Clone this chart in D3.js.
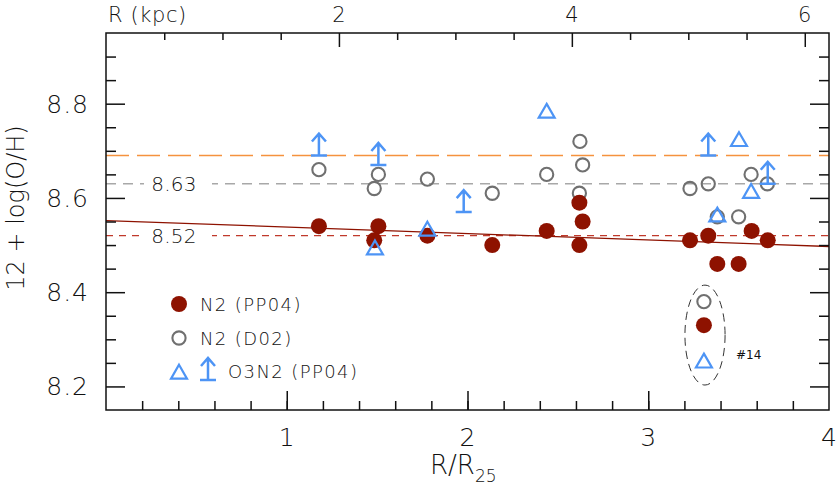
<!DOCTYPE html>
<html>
<head>
<meta charset="utf-8">
<script src="https://cdn.jsdelivr.net/npm/d3@7"></script>
<style>
  html, body { margin: 0; padding: 0; background: #fff; }
  svg { display: block; }
  svg text { font-family: "DejaVu Sans", sans-serif; font-weight: 200; }
</style>
</head>
<body>
<svg id="chart" width="839" height="494"></svg>
<script>
// ---------- data ----------
// N2 (PP04): filled dark-red circles
const n2ppX = [1.178, 1.507, 1.484, 1.778, 2.137, 2.438, 2.619, 2.637, 2.619, 3.231, 3.332, 3.382, 3.500, 3.572, 3.661, 3.308];
const n2ppY = [8.54, 8.54, 8.51, 8.52, 8.50, 8.53, 8.59, 8.55, 8.50, 8.51, 8.52, 8.46, 8.46, 8.53, 8.51, 8.33];
// N2 (D02): open grey circles
const n2dX = [1.178, 1.507, 1.484, 1.778, 2.137, 2.438, 2.622, 2.637, 2.619, 3.231, 3.332, 3.382, 3.500, 3.569, 3.659, 3.308];
const n2dY = [8.66, 8.65, 8.62, 8.64, 8.61, 8.65, 8.72, 8.67, 8.61, 8.62, 8.63, 8.56, 8.56, 8.65, 8.63, 8.38];
// O3N2 (PP04): detections (triangles)
const o3X = [1.488, 1.778, 2.438, 3.502, 3.569, 3.382, 3.308];
const o3Y = [8.49, 8.53, 8.78, 8.72, 8.61, 8.56, 8.25];
// O3N2 (PP04): lower limits (arrows)
const limX = [1.178, 1.507, 1.979, 3.332, 3.661];
const limY = [8.69, 8.67, 8.57, 8.69, 8.63];
// reference levels
const levelOrange = 8.69;
const levelGrey = 8.63;
const levelRed = 8.52;
// linear gradient fit (value at R/R25 = 0 and 4)
const fitX = [0, 4];
const fitY = [8.552, 8.497];
// tick labels
const xTicks = [1, 2, 3, 4];
const yTicks = [8.2, 8.4, 8.6, 8.8];
const kpcTicks = [2, 4, 6];
const R25_KPC = 1.552;
// #14 ellipse (data units)
const ellX = [3.203, 3.425];
const ellY = [8.203, 8.415];

// ---------- layout ----------
const W = 839, H = 494;
const m = {left: 106, right: 10, top: 33, bottom: 84};
const svg = d3.select("#chart");
const x = d3.scaleLinear().domain([0, 4]).range([m.left, W - m.right]);
const y = d3.scaleLinear().domain([8.15, 8.95]).range([H - m.bottom, m.top]);
const xk = d3.scaleLinear().domain([0, 4 * R25_KPC]).range([m.left, W - m.right]);

const cRed = "#8e1200", cGrey = "#707070", cBlue = "#4d94f5", cText = "#111";

// ---------- reference lines ----------
const g = svg.append("g");
g.append("line").attr("x1", x(0)).attr("x2", x(4)).attr("y1", y(levelOrange)).attr("y2", y(levelOrange))
  .attr("stroke", "#f5923e").attr("stroke-width", 1.5).attr("stroke-dasharray", "23,8");
g.append("line").attr("x1", x(0)).attr("x2", x(4)).attr("y1", y(levelGrey)).attr("y2", y(levelGrey))
  .attr("stroke", "#a8a8a8").attr("stroke-width", 1.5).attr("stroke-dasharray", "10,7");
g.append("line").attr("x1", x(0)).attr("x2", x(4)).attr("y1", y(levelRed)).attr("y2", y(levelRed))
  .attr("stroke", "#c0392b").attr("stroke-width", 1.3).attr("stroke-dasharray", "7,6");
g.append("line").attr("x1", x(fitX[0])).attr("x2", x(fitX[1])).attr("y1", y(fitY[0])).attr("y2", y(fitY[1]))
  .attr("stroke", "#8e1200").attr("stroke-width", 1.3);

// level labels with white background
[[levelGrey, "8.63"], [levelRed, "8.52"]].forEach(([v, t]) => {
  g.append("rect").attr("x", 144).attr("y", y(v) - 9).attr("width", 68).attr("height", 18).attr("fill", "#fff");
  g.append("text").attr("x", 174).attr("y", y(v)).attr("dy", "0.36em").attr("text-anchor", "middle")
    .attr("font-size", 20).attr("letter-spacing", 0.3).attr("fill", cText).text(t);
});

// ---------- ellipse #14 ----------
g.append("ellipse")
  .attr("cx", (x(ellX[0]) + x(ellX[1])) / 2).attr("cy", (y(ellY[0]) + y(ellY[1])) / 2)
  .attr("rx", (x(ellX[1]) - x(ellX[0])) / 2).attr("ry", (y(ellY[0]) - y(ellY[1])) / 2)
  .attr("fill", "none").attr("stroke", "#333").attr("stroke-width", 1).attr("stroke-dasharray", "8,5");
g.append("text").attr("x", x(ellX[1]) + 11).attr("y", (y(ellY[0]) + y(ellY[1])) / 2 + 20)
  .attr("dy", "0.36em").attr("font-size", 12).style("font-weight", 400).attr("fill", cText).text("#14");

// ---------- points ----------
const pts = g.append("g");
pts.selectAll("circle.d02").data(d3.range(n2dX.length)).join("circle")
  .attr("cx", i => x(n2dX[i])).attr("cy", i => y(n2dY[i])).attr("r", 6.6)
  .attr("fill", "none").attr("stroke", cGrey).attr("stroke-width", 2.1);
pts.selectAll("circle.pp").data(d3.range(n2ppX.length)).join("circle")
  .attr("cx", i => x(n2ppX[i])).attr("cy", i => y(n2ppY[i])).attr("r", 8)
  .attr("fill", cRed);
const tri = d3.symbol().type(d3.symbolTriangle).size(110);
pts.selectAll("path.tri").data(d3.range(o3X.length)).join("path")
  .attr("d", tri).attr("transform", i => `translate(${x(o3X[i])},${y(o3Y[i])})`)
  .attr("fill", "none").attr("stroke", cBlue).attr("stroke-width", 2.2);

function arrowPath(px, py) {
  return `M${px - 8},${py}H${px + 8}M${px},${py}V${py - 22}M${px - 7},${py - 14}L${px},${py - 22}L${px + 7},${py - 14}`;
}
pts.selectAll("path.lim").data(d3.range(limX.length)).join("path")
  .attr("d", i => arrowPath(x(limX[i]), y(limY[i])))
  .attr("fill", "none").attr("stroke", cBlue).attr("stroke-width", 2.5);

// ---------- axes frame ----------
svg.append("rect").attr("x", x(0)).attr("y", y(8.95)).attr("width", x(4) - x(0)).attr("height", y(8.15) - y(8.95))
  .attr("fill", "none").attr("stroke", "#111").attr("stroke-width", 1.5);

function styleAxis(sel) {
  sel.selectAll(".domain").remove();
  sel.selectAll("line").attr("stroke", "#111").attr("stroke-width", 1.5);
}

// bottom axis
const axB = svg.append("g").attr("transform", `translate(0,${y(8.15)})`);
axB.call(d3.axisBottom(x).tickValues(d3.range(1, 20).map(i => i * 0.2)).tickSizeInner(-9).tickSizeOuter(0).tickFormat(""));
axB.append("g").call(d3.axisBottom(x).tickValues([1, 2, 3]).tickSizeInner(-19).tickSizeOuter(0).tickFormat(""));
styleAxis(axB);
svg.append("g").selectAll("text").data(xTicks).join("text")
  .attr("x", d => x(d)).attr("y", y(8.15) + 36).attr("text-anchor", "middle")
  .attr("font-size", 25).attr("fill", cText).text(d => d);

// top axis (kpc)
const axT = svg.append("g").attr("transform", `translate(0,${y(8.95)})`);
axT.call(d3.axisTop(xk).tickValues(d3.range(1, 13).map(i => i * 0.5).filter(v => v % 2 !== 0)).tickSizeInner(-7).tickSizeOuter(0).tickFormat(""));
axT.append("g").call(d3.axisTop(xk).tickValues(kpcTicks).tickSizeInner(-14).tickSizeOuter(0).tickFormat(""));
styleAxis(axT);
svg.append("g").selectAll("text").data(kpcTicks).join("text")
  .attr("x", d => xk(d)).attr("y", y(8.95) - 11).attr("text-anchor", "middle")
  .attr("font-size", 21).attr("fill", cText).text(d => d);
svg.append("text").attr("x", 108).attr("y", 22).attr("font-size", 21).attr("letter-spacing", 0.6)
  .attr("fill", cText).text("R (kpc)");

// left & right axes
const yMinor = d3.range(0, 16).map(i => +(8.15 + i * 0.05).toFixed(2)).filter(v => v > 8.15 && v < 8.95 && !yTicks.includes(v));
const axL = svg.append("g").attr("transform", `translate(${x(0)},0)`);
axL.call(d3.axisLeft(y).tickValues(yMinor).tickSizeInner(-10).tickSizeOuter(0).tickFormat(""));
axL.append("g").call(d3.axisLeft(y).tickValues(yTicks).tickSizeInner(-19).tickSizeOuter(0).tickFormat(""));
styleAxis(axL);
svg.append("g").selectAll("text").data(yTicks).join("text")
  .attr("x", x(0) - 17).attr("y", d => y(d)).attr("dy", "0.36em").attr("text-anchor", "end")
  .attr("font-size", 25).attr("letter-spacing", 1).attr("fill", cText).text(d => d.toFixed(1));

const axR = svg.append("g").attr("transform", `translate(${x(4)},0)`);
axR.call(d3.axisRight(y).tickValues(yMinor).tickSizeInner(-10).tickSizeOuter(0).tickFormat(""));
axR.append("g").call(d3.axisRight(y).tickValues(yTicks).tickSizeInner(-19).tickSizeOuter(0).tickFormat(""));
styleAxis(axR);

// axis titles
svg.append("text").attr("transform", `translate(24,${208}) rotate(-90)`).attr("text-anchor", "middle")
  .attr("font-size", 24).attr("fill", cText).text("12 + log(O/H)");
const xt = svg.append("text").attr("x", 430).attr("y", 474).attr("font-size", 26).attr("fill", cText);
xt.append("tspan").text("R/R");
xt.append("tspan").attr("font-size", 17).attr("dy", 8).text("25");

// ---------- legend ----------
const lg = svg.append("g");
lg.append("circle").attr("cx", 179).attr("cy", 304).attr("r", 8).attr("fill", cRed);
lg.append("circle").attr("cx", 179).attr("cy", 338).attr("r", 6.6).attr("fill", "none").attr("stroke", cGrey).attr("stroke-width", 2.1);
lg.append("path").attr("d", tri).attr("transform", "translate(179,374)").attr("fill", "none").attr("stroke", cBlue).attr("stroke-width", 2.2);
lg.append("path").attr("d", arrowPath(208, 380)).attr("fill", "none").attr("stroke", cBlue).attr("stroke-width", 2.5);
const legTxt = [["N2 (PP04)", 200, 311], ["N2 (D02)", 200, 345], ["O3N2 (PP04)", 228, 378]];
legTxt.forEach(([t, lx, ly]) => {
  lg.append("text").attr("x", lx).attr("y", ly).attr("font-size", 18).attr("letter-spacing", 1.4)
    .attr("fill", cText).text(t);
});
</script>
</body>
</html>
